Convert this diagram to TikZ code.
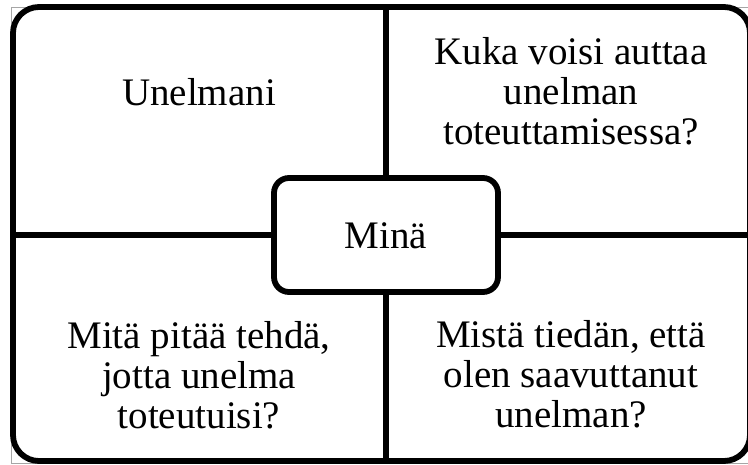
\documentclass[tikz,border=0pt]{standalone}
\usepackage{fontspec}
\setmainfont{Liberation Serif}
\begin{document}
\begin{tikzpicture}[x=1pt,y=-1pt,
  thick line/.style={line width=5.8pt},
  label text/.style={align=center,anchor=base,font=\fontsize{39}{40}\selectfont,inner sep=0pt}]
\useasboundingbox (0,0) rectangle (748,464);
\draw[gray!70,line width=0.8pt] (11,7) rectangle (770,463);
\node[draw,thick line,rounded corners=26pt,minimum width=737pt,minimum height=454pt,inner sep=0pt] (frame) at (381.5,234) {};
\node[draw,thick line,rounded corners=15pt,fill=white,minimum width=224pt,minimum height=114pt,inner sep=0pt] (me) at (386,235) {};
\node[label text] (metext) at (386,248) {Minä};
\draw[thick line] (me.north) -- (me.north |- frame.north);
\draw[thick line] (me.south) -- (me.south |- frame.south);
\draw[thick line] (me.west) -- (me.west -| frame.west);
\draw[thick line] (me.east) -- (me.east -| frame.east);
\node[label text] (q1) at (199,105.5) {Unelmani};
\node[label text] (q2) at (571,144) {Kuka voisi auttaa\\unelman\\toteuttamisessa?};
\node[label text] (q3) at (199,428) {Mitä pitää tehdä,\\jotta unelma\\toteutuisi?};
\node[label text] (q4) at (571,427) {Mistä tiedän, että\\olen saavuttanut\\unelman?};
\end{tikzpicture}
\end{document}
